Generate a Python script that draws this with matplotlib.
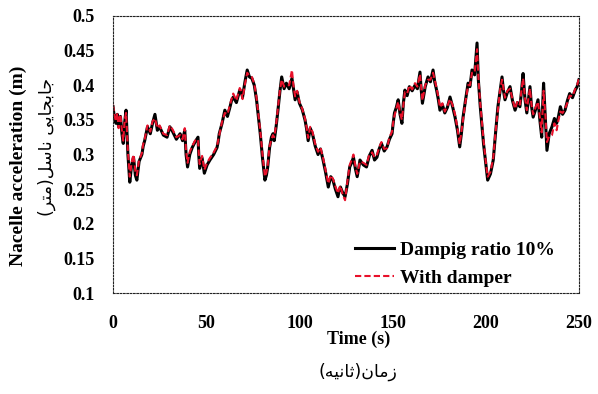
import matplotlib
matplotlib.use("Agg")
import matplotlib.pyplot as plt

# time axis (s) and nacelle response
time_s = [0, 0.8, 1.6, 2.3, 3, 3.5, 4, 4.8, 5.5, 6.2,
          7, 8, 9, 10, 11, 12, 12.8, 14, 15.5, 16.2,
          17, 18.5, 20, 21.2, 22.5, 23.8, 25, 27, 29, 30.5,
          32, 34, 36, 37.3, 38.5, 39.2, 40, 41.2, 42.5, 44,
          45.6, 46, 46.5, 47.8, 49, 50.5, 52, 54, 55.8, 56.4,
          57, 58.5, 60, 61.4, 62.8, 63.6, 64.5, 66.2, 68, 68.8,
          69.5, 70.8, 72, 73.2, 74.5, 75.8, 77, 78, 79, 80.2,
          81.5, 82.3, 83, 84, 85, 85.8, 86.5, 87.5, 88.5, 89.5,
          90.5, 91.8, 93, 94.5, 96, 96.8, 97.7, 98.8, 100, 101.5,
          103, 103.8, 104.7, 105.8, 107, 108.5, 110, 111.3, 112.7, 114,
          115.5, 116.8, 118, 119.3, 120.7, 121.3, 122, 123.2, 124.5, 125.8,
          127, 128, 129, 130, 131, 131.8, 132.5, 134.3, 136, 137.5,
          139, 140.3, 141.6, 142.8, 144, 145.5, 147, 148.3, 149.7, 150.3,
          151, 152, 153, 154, 155, 155.8, 156.6, 157.8, 159, 160.5,
          162, 163.3, 164.7, 165.3, 166, 167.5, 169, 170.3, 171.7, 172.6,
          173.6, 174.5, 175.4, 176.7, 178, 179.4, 180.8, 182.1, 183.5, 184.8,
          186, 186.9, 187.8, 189.2, 190.5, 191.5, 192.6, 194, 195.3, 196,
          197, 198, 198.8, 199.6, 200.3, 201, 202.5, 204, 205.2, 206.5,
          207.6, 208.7, 209.5, 210.3, 211.6, 213, 214.3, 215.7, 217, 218.3,
          219.1, 220, 221, 222, 222.8, 223.7, 224.5, 225.4, 226.7, 228,
          229, 230, 230.5, 231, 232, 232.8, 234, 235.5, 236.8, 238,
          239, 240, 241.2, 242.5, 243.8, 245, 246.5, 248, 249, 250]

damping_10 = [0.369, 0.352, 0.345, 0.358, 0.340, 0.350, 0.355, 0.330, 0.316, 0.345,
              0.364, 0.300, 0.260, 0.285, 0.296, 0.270, 0.263, 0.290, 0.300, 0.312,
              0.320, 0.340, 0.330, 0.345, 0.358, 0.335, 0.340, 0.328, 0.325, 0.340,
              0.333, 0.322, 0.330, 0.320, 0.335, 0.300, 0.282, 0.300, 0.310, 0.318,
              0.325, 0.300, 0.280, 0.295, 0.273, 0.285, 0.292, 0.300, 0.310, 0.318,
              0.330, 0.345, 0.364, 0.355, 0.369, 0.378, 0.383, 0.375, 0.393, 0.390,
              0.383, 0.405, 0.422, 0.412, 0.410, 0.400, 0.379, 0.355, 0.330, 0.295,
              0.263, 0.270, 0.282, 0.310, 0.325, 0.330, 0.320, 0.340, 0.364, 0.390,
              0.412, 0.395, 0.403, 0.395, 0.410, 0.395, 0.379, 0.390, 0.374, 0.365,
              0.350, 0.338, 0.320, 0.338, 0.330, 0.312, 0.300, 0.308, 0.292, 0.275,
              0.253, 0.268, 0.263, 0.250, 0.239, 0.248, 0.253, 0.245, 0.239, 0.258,
              0.282, 0.288, 0.296, 0.280, 0.268, 0.280, 0.292, 0.285, 0.282, 0.298,
              0.306, 0.292, 0.296, 0.308, 0.316, 0.305, 0.311, 0.322, 0.330, 0.345,
              0.360, 0.368, 0.379, 0.358, 0.345, 0.375, 0.393, 0.385, 0.398, 0.392,
              0.400, 0.395, 0.419, 0.395, 0.374, 0.398, 0.412, 0.405, 0.422, 0.405,
              0.393, 0.380, 0.364, 0.372, 0.360, 0.368, 0.383, 0.370, 0.354, 0.335,
              0.311, 0.330, 0.354, 0.380, 0.403, 0.398, 0.422, 0.415, 0.461, 0.408,
              0.370, 0.340, 0.315, 0.296, 0.278, 0.263, 0.272, 0.292, 0.330, 0.369,
              0.390, 0.412, 0.392, 0.379, 0.390, 0.398, 0.378, 0.364, 0.375, 0.369,
              0.390, 0.417, 0.380, 0.360, 0.378, 0.398, 0.370, 0.354, 0.365, 0.379,
              0.350, 0.325, 0.370, 0.403, 0.350, 0.306, 0.330, 0.340, 0.352, 0.345,
              0.355, 0.369, 0.358, 0.364, 0.378, 0.388, 0.382, 0.393, 0.398, 0.408]

with_damper = [0.372, 0.356, 0.348, 0.360, 0.338, 0.352, 0.358, 0.334, 0.320, 0.348,
               0.360, 0.305, 0.268, 0.288, 0.300, 0.276, 0.270, 0.292, 0.302, 0.315,
               0.322, 0.342, 0.333, 0.348, 0.352, 0.338, 0.342, 0.330, 0.328, 0.342,
               0.336, 0.325, 0.328, 0.322, 0.338, 0.305, 0.288, 0.304, 0.312, 0.320,
               0.322, 0.303, 0.286, 0.298, 0.278, 0.288, 0.295, 0.303, 0.312, 0.320,
               0.328, 0.347, 0.360, 0.358, 0.372, 0.380, 0.388, 0.378, 0.396, 0.392,
               0.380, 0.402, 0.418, 0.414, 0.412, 0.402, 0.382, 0.358, 0.334, 0.300,
               0.268, 0.274, 0.285, 0.312, 0.322, 0.328, 0.325, 0.343, 0.368, 0.392,
               0.408, 0.398, 0.400, 0.400, 0.422, 0.400, 0.384, 0.392, 0.376, 0.366,
               0.352, 0.340, 0.324, 0.340, 0.333, 0.315, 0.304, 0.310, 0.295, 0.278,
               0.258, 0.270, 0.265, 0.254, 0.244, 0.250, 0.255, 0.242, 0.234, 0.262,
               0.285, 0.292, 0.300, 0.284, 0.272, 0.282, 0.290, 0.288, 0.285, 0.300,
               0.303, 0.296, 0.300, 0.310, 0.318, 0.308, 0.309, 0.325, 0.333, 0.346,
               0.356, 0.366, 0.376, 0.360, 0.350, 0.372, 0.390, 0.388, 0.400, 0.394,
               0.403, 0.398, 0.416, 0.398, 0.378, 0.400, 0.408, 0.408, 0.418, 0.408,
               0.396, 0.384, 0.368, 0.374, 0.362, 0.370, 0.380, 0.372, 0.358, 0.338,
               0.315, 0.333, 0.350, 0.378, 0.400, 0.400, 0.418, 0.418, 0.452, 0.412,
               0.374, 0.345, 0.320, 0.300, 0.282, 0.268, 0.275, 0.295, 0.332, 0.365,
               0.392, 0.408, 0.395, 0.382, 0.392, 0.395, 0.380, 0.366, 0.377, 0.372,
               0.392, 0.410, 0.382, 0.364, 0.380, 0.395, 0.372, 0.358, 0.368, 0.376,
               0.354, 0.332, 0.365, 0.392, 0.355, 0.318, 0.326, 0.328, 0.345, 0.335,
               0.350, 0.362, 0.360, 0.366, 0.375, 0.385, 0.384, 0.395, 0.400, 0.410]

x_ticks = [0, 50, 100, 150, 200, 250]
y_ticks = [0.1, 0.15, 0.2, 0.25, 0.3, 0.35, 0.4, 0.45, 0.5]
y_tick_labels = ["0.1", "0.15", "0.2", "0.25", "0.3", "0.35", "0.4", "0.45", "0.5"]

# Persian labels written in visual order with joined glyph forms
# (matplotlib has no bidi / shaping support)
ylabel_fa = "(\ufeae\ufe98\ufee3)\ufede\ufeb3\ufe8e\ufee7 \ufef0\ufef3\ufe8e\ufea0\ufe91\ufe8e\ufe9f"
xlabel_fa = "(\ufeea\ufef4\ufee7\ufe8e\ufe9b)\ufee5\ufe8e\ufee3\ufeaf"

serif = "Liberation Serif"
W, H = 598, 394

fig = plt.figure(figsize=(W / 100, H / 100), dpi=100)
ax = fig.add_axes([113 / W, 1 - 293 / H, 466 / W, 277 / H])

ax.plot(time_s, damping_10, color="black", lw=2.2, label="Dampig ratio 10%")
ax.plot(time_s, with_damper, color="#e8102a", lw=1.5, ls=(0, (3, 1.5)), label="With damper")

ax.set_xlim(0, 250)
ax.set_ylim(0.1, 0.5)
ax.set_xticks(x_ticks)
ax.set_yticks(y_ticks)
ax.set_xticklabels([str(t) for t in x_ticks], fontfamily=serif, fontweight="bold", fontsize=13)
ax.set_yticklabels(y_tick_labels, fontfamily=serif, fontweight="bold", fontsize=13)
ax.tick_params(axis="both", length=0)
ax.tick_params(axis="x", pad=16)
ax.tick_params(axis="y", pad=13)

for spine in ax.spines.values():
    spine.set_linestyle((0, (1.5, 1.5)))
    spine.set_linewidth(0.8)
    spine.set_color("#222222")

leg = ax.legend(loc="upper left", bbox_to_anchor=(355 / W, 1 - 241 / H),
                bbox_transform=fig.transFigure, frameon=False,
                borderpad=0, borderaxespad=0,
                prop={"family": serif, "weight": "bold", "size": 14},
                handlelength=2.0, handletextpad=0.3, labelspacing=0.55)

fig.text(359 / W, 1 - 339 / H, "Time (s)", ha="center", va="center",
         fontfamily=serif, fontweight="bold", fontsize=13)
fig.text(358 / W, 1 - 372 / H, xlabel_fa, ha="center", va="center",
         fontfamily="DejaVu Sans", fontsize=12.5)
fig.text(18 / W, 1 - 166 / H, "Nacelle acceleration (m)", ha="center", va="center",
         rotation=90, fontfamily=serif, fontweight="bold", fontsize=14)
fig.text(47 / W, 1 - 147 / H, ylabel_fa, ha="center", va="center",
         rotation=90, fontfamily="DejaVu Sans", fontsize=12.5)

fig.savefig("out.png", dpi=100)
